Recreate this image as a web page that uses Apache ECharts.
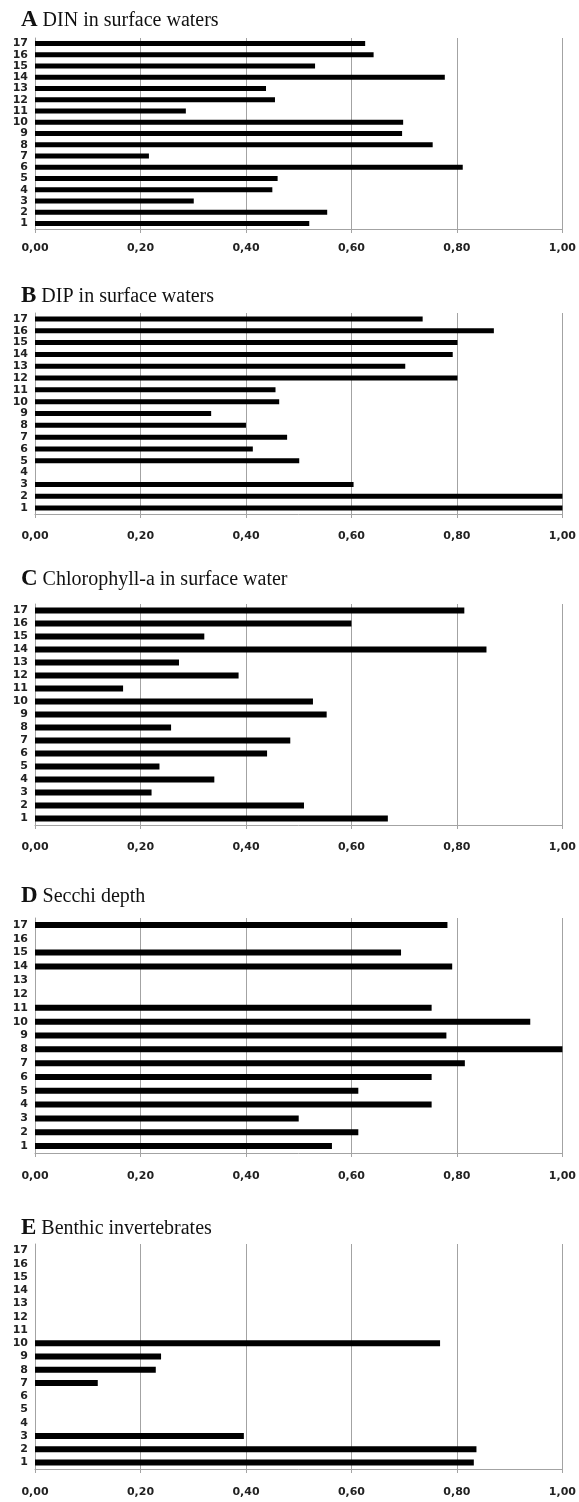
<!DOCTYPE html>
<html><head><meta charset="utf-8">
<script src="https://cdn.jsdelivr.net/npm/echarts@6/dist/echarts.min.js"></script>
<style>html,body{margin:0;padding:0;background:#fff}#c{width:579px;height:1502px}</style>
</head><body><div id="c"></div>
<script>
const categories = ['1','2','3','4','5','6','7','8','9','10','11','12','13','14','15','16','17'];
const xTickLabels = ['0,00','0,20','0,40','0,60','0,80','1,00'];
const panelLetters = ['A','B','C','D','E'];
const panelTitles = ['DIN in surface waters','DIP in surface waters','Chlorophyll-a in surface water','Secchi depth','Benthic invertebrates'];
const dinValues = [0.520,0.554,0.301,0.450,0.460,0.811,0.216,0.754,0.696,0.698,0.286,0.455,0.438,0.777,0.531,0.642,0.626];
const dipValues = [1.000,1.000,0.604,null,0.501,0.413,0.478,0.400,0.334,0.463,0.456,0.801,0.702,0.792,0.801,0.870,0.735];
const chlValues = [0.669,0.510,0.221,0.340,0.236,0.440,0.484,0.258,0.553,0.527,0.167,0.386,0.273,0.856,0.321,0.600,0.814];
const secchiValues = [0.563,0.613,0.500,0.752,0.613,0.752,0.815,1.000,0.780,0.939,0.752,null,null,0.791,0.694,null,0.782];
const benthicValues = [0.832,0.837,0.396,null,null,null,0.119,0.229,0.239,0.768,null,null,null,null,null,null,null];
const seriesValues = [dinValues, dipValues, chlValues, secchiValues, benthicValues];

// layout (pixels)
const layout = [
  {top: 38,   height: 191, titleTop: 4,    labelMargin: 14, barWidth: 5},
  {top: 313,  height: 201, titleTop: 280,  labelMargin: 17, barWidth: 5},
  {top: 604,  height: 221, titleTop: 563,  labelMargin: 17, barWidth: 6},
  {top: 918,  height: 235, titleTop: 880,  labelMargin: 18, barWidth: 6},
  {top: 1244, height: 225, titleTop: 1212, labelMargin: 18, barWidth: 6}
];
const gridColor = '#a3a3a3';
const labelFont = {fontFamily: 'DejaVu Sans', fontWeight: 'bold', fontSize: 11, color: '#222'};

const option = {
  animation: false,
  backgroundColor: '#fff',
  title: layout.map((l, i) => ({
    left: 16, top: l.titleTop,
    text: '{l|' + panelLetters[i] + '} {t|' + panelTitles[i] + '}',
    textStyle: {fontWeight: 'normal', rich: {
      l: {fontFamily: 'Liberation Serif', fontWeight: 'bold', fontSize: 23, color: '#111'},
      t: {fontFamily: 'Liberation Serif', fontWeight: 'normal', fontSize: 20, color: '#111'}
    }}
  })),
  grid: layout.map(l => ({left: 35, right: 16, top: l.top, height: l.height})),
  xAxis: layout.map((l, i) => ({
    type: 'value', gridIndex: i, min: 0, max: 1, interval: 0.2,
    axisLine: {show: true, lineStyle: {color: gridColor, width: 1}},
    axisTick: {show: true, length: 4, lineStyle: {color: gridColor}},
    splitLine: {show: true, lineStyle: {color: gridColor, width: 1}},
    axisLabel: Object.assign({margin: l.labelMargin, formatter: v => xTickLabels[Math.round(v / 0.2)]}, labelFont)
  })),
  yAxis: layout.map((l, i) => ({
    type: 'category', gridIndex: i, data: categories,
    axisLine: {show: true, lineStyle: {color: gridColor, width: 1}},
    axisTick: {show: false},
    axisLabel: Object.assign({margin: 7, interval: 0}, labelFont)
  })),
  series: seriesValues.map((vals, i) => ({
    type: 'bar', xAxisIndex: i, yAxisIndex: i, data: vals,
    barWidth: layout[i].barWidth, itemStyle: {color: '#000'}
  }))
};
echarts.init(document.getElementById('c'), null, {renderer: 'canvas'}).setOption(option);
</script>
</body></html>
